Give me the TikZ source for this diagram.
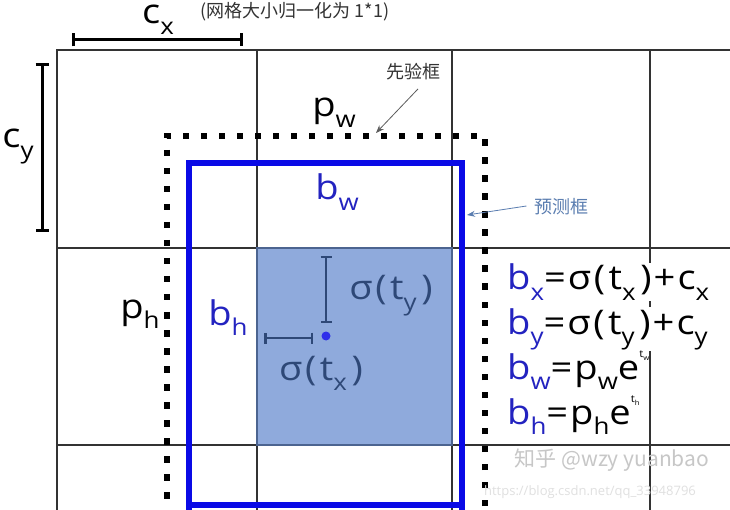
\documentclass[tikz,border=0pt]{standalone}
\usepackage{fontspec}
\setmainfont{Open Sans}
\newfontfamily\lab[LetterSpace=6,FakeStretch=1.12]{Open Sans}
\newfontfamily\cjk{Noto Sans CJK SC}
\usetikzlibrary{arrows.meta}
\definecolor{gridc}{HTML}{333333}
\definecolor{predblue}{HTML}{0A0AE6}
\definecolor{labblue}{HTML}{2323C0}
\definecolor{cellfill}{HTML}{8FAADC}
\definecolor{cellline}{HTML}{4C6490}
\definecolor{slate}{HTML}{2E4877}
\definecolor{noteblue}{HTML}{5A7DB0}
\newcommand\sbs[1]{\raisebox{-0.3em}{\scalebox{0.68}{#1}}}
\newcommand\sps[1]{\raisebox{0.62em}{\scalebox{0.3}{#1}}}
\newcommand\lp{\kern0.08em(\kern0.1em}
\newcommand\rp{\kern0.14em)\kern0.06em}
\tikzset{
  gridline/.style={draw=gridc, line width=1.3pt},
  big/.style={font=\lab\fontsize{34}{36}\selectfont, inner sep=0pt, anchor=base},
  eq/.style={font=\lab\fontsize{34}{36}\selectfont, inner sep=1pt, anchor=base west},
  brk/.style={line width=3pt, {Bar[width=13pt]}-{Bar[width=13pt]}},
  cn/.style={font=\cjk\fontsize{18}{20}\selectfont},
}
\begin{document}
\begin{tikzpicture}[x=1pt,y=-1pt]
\useasboundingbox (0,0) rectangle (730,510);
\fill[white] (0,0) rectangle (730,510);
% shaded cell
\fill[cellfill] (257,248) rectangle (452,445);
% grid
\draw[gridline] (57,510) -- (57,50) -- (730,50);
\draw[gridline] (257,50) -- (257,510);
\draw[gridline] (452,50) -- (452,510);
\draw[gridline] (650,50) -- (650,510);
\draw[gridline] (57,248) -- (730,248);
\draw[gridline] (57,445) -- (730,445);
\draw[cellline, line width=1.2pt] (257,248) rectangle (452,445);
% prior box (dotted)
\draw[black, line width=6.5pt, dash pattern=on 6.5pt off 11.5pt] (485,560) -- (485,136) -- (167,136) -- (167,560);
% prediction box
\draw[predblue, line width=6.5pt] (189,530) -- (189,163) -- (462,163) -- (462,530);
\draw[predblue, line width=6.5pt] (186,505) -- (465,505);
% brackets
\coordinate (cxa) at (72,40); \coordinate (cxb) at (243,40);
\draw[brk] (cxa) -- (cxb);
\coordinate (cya) at (42,63); \coordinate (cyb) at (42,232);
\draw[brk] (cya) -- (cyb);
\node[big] (cx) at (158,24) {c\sbs{x}};
\node[big] (cy) at (18,148) {c\sbs{y}};
\node[cn, text=gridc, anchor=west] (note) at (197,12) {(网格大小归一化为 1*1)};
% labels
\node[cn, text=gridc] (prior) at (413,72) {先验框};
\coordinate (priortip) at (376,133);
\draw[gridc!80, line width=0.8pt, -{Stealth[length=8pt,width=6pt]}] (prior.south) ++(5,5) coordinate (pa) (pa) -- (priortip);
\node[big] (pw) at (334,117) {p\sbs{w}};
\node[big, text=labblue] (bw) at (337,200) {b\sbs{w}};
\node[cn, text=noteblue] (pred) at (561,207) {预测框};
\coordinate (predtip) at (467,215);
\draw[noteblue, line width=0.8pt, -{Stealth[length=8pt,width=6pt]}] (pred.west) ++(-4,-1) coordinate (pb) (pb) -- (predtip);
\node[big] (ph) at (140,318) {p\sbs{h}};
\node[big, text=labblue] (bh) at (228,325) {b\sbs{h}};
% sigma brackets
\coordinate (sya) at (326,256); \coordinate (syb) at (326,323);
\draw[slate, line width=2.5pt, {Bar[width=11pt]}-{Bar[width=11pt]}] (sya) -- (syb);
\coordinate (sxa) at (264,338); \coordinate (sxb) at (313,338);
\draw[slate, line width=2.5pt, {Bar[width=11pt]}-{Bar[width=11pt]}] (sxa) -- (sxb);
\node[big, text=slate] (sy) at (392,300) {σ\lp t\sbs{y}\rp};
\node[big, text=slate] (sx) at (322,380) {σ\lp t\sbs{x}\rp};
\fill[predblue!85] (326,336) circle (4.5pt) node (dot) {};
% equations
\node[eq, fill=white] (e1) at (506,290) {\textcolor{labblue}{b\sbs{x}}=σ\lp t\sbs{x}\rp+c\sbs{x}};
\node[eq, fill=white] (e2) at (506,334) {\textcolor{labblue}{b\sbs{y}}=σ\lp t\sbs{y}\rp+c\sbs{y}};
\node[eq] (e3) at (506,379) {\textcolor{labblue}{b\sbs{w}}=p\sbs{w}e\sps{t\sbs{w}}};
\node[eq] (e4) at (506,424) {\textcolor{labblue}{b\sbs{h}}=p\sbs{h}e\sps{t\sbs{h}}};
% watermark
\node[font=\cjk\fontsize{21}{23}\selectfont, text=black!22] (wm) at (612,460) {知乎 @wzy yuanbao};
\node[font=\fontsize{13}{15}\selectfont, text=black!12] (wm2) at (590,492) {https://blog.csdn.net/qq\_33948796};
\end{tikzpicture}
\end{document}
